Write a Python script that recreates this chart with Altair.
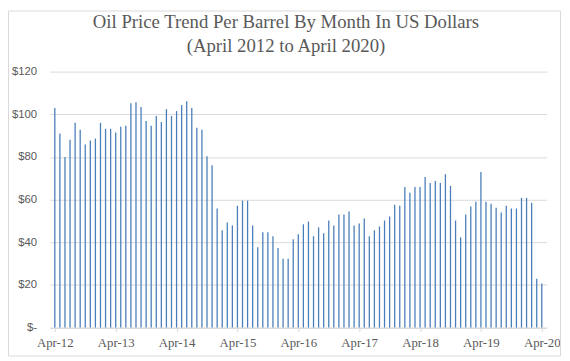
import json
import altair as alt
import pandas as pd

# ---- data ----
months = list(pd.date_range("2012-04-01", periods=97, freq="MS").strftime("%b-%y"))
prices = [
    103.0, 91.0, 80.0, 88.0, 96.0, 92.7, 85.8, 87.7, 88.6, 96.0, 93.2, 93.2,
    91.4, 94.1, 94.6, 105.2, 105.7, 103.4, 96.9, 94.6, 99.2, 96.4, 102.4, 99.2,
    101.5, 104.3, 106.1, 102.9, 93.7, 92.7, 80.3, 76.1, 55.8,
    45.6, 49.3, 47.9, 57.1, 59.5, 59.5, 47.9, 37.7, 44.7, 44.7, 42.8, 37.3,
    32.2, 32.2, 41.4, 43.7, 48.4, 49.7, 42.8, 47.0, 44.2, 50.2, 47.9, 53.0,
    53.0, 54.4, 47.9, 48.8, 51.1, 42.8, 45.6, 47.4,
    50.2, 52.1, 57.6, 57.1, 65.9, 63.2, 65.9, 65.9, 70.6, 67.8, 68.7, 67.8,
    71.9, 66.4, 50.2, 42.3, 53.0, 56.7, 59.0, 72.9, 59.0, 58.1, 56.2, 53.9,
    57.1, 55.8, 55.8, 60.8, 60.8, 58.5, 22.9, 20.6,
]
tick_positions = [0, 12, 24, 36, 48, 60, 72, 84, 96]
tick_labels = ["Apr-12", "Apr-13", "Apr-14", "Apr-15", "Apr-16",
               "Apr-17", "Apr-18", "Apr-19", "Apr-20"]
y_ticks = [0, 20, 40, 60, 80, 100, 120]
title_lines = ["Oil Price Trend Per Barrel By Month In US Dollars",
               "(April 2012 to April 2020)"]

df = pd.DataFrame({"i": list(range(len(prices))), "month": months, "price": prices})

GREY_TXT = "#595959"
GRID = "#d9d9d9"

label_expr = json.dumps(tick_labels) + "[round(datum.value/12)]"

bars = alt.Chart(df).mark_bar(width=1.3, color="#4a7ebb").encode(
    x=alt.X("i:Q",
            scale=alt.Scale(domain=[0, 96], nice=False, zero=False),
            axis=alt.Axis(values=tick_positions, labelExpr=label_expr, title=None,
                          grid=False, domainColor=GRID, tickColor=GRID, tickSize=4,
                          labelFont="Liberation Serif", labelFontSize=13,
                          labelColor=GREY_TXT, labelPadding=5, labelFlush=False)),
    y=alt.Y("price:Q",
            scale=alt.Scale(domain=[0, 120], nice=False),
            axis=alt.Axis(values=y_ticks, title=None, grid=True, gridColor=GRID,
                          domain=False, ticks=False, labelAlign="right",
                          labelPadding=13.5, labelFont="Liberation Sans",
                          labelFontSize=11.5, labelColor=GREY_TXT,
                          labelExpr="datum.value == 0 ? '$-  ' : '$' + datum.value")),
    tooltip=["month:N", "price:Q"],
)

one = pd.DataFrame({"a": [0]})

border = alt.Chart(one).mark_rect(
    fill=None, stroke=GRID, strokeWidth=1
).encode(
    x=alt.value(-42), x2=alt.value(518), y=alt.value(-61.5), y2=alt.value(288.5)
)

title_marks = [
    alt.Chart(one).mark_text(
        font="Liberation Serif", fontSize=19, color=GREY_TXT,
        align="center", baseline="middle"
    ).encode(text=alt.value(line), x=alt.value(239.5), y=alt.value(yy))
    for line, yy in zip(title_lines, [-50, -26])
]

chart = alt.layer(bars, border, *title_marks).properties(
    width=504, height=259.6,
    padding={"left": 42.5, "top": 62, "right": 15.5, "bottom": 31.4},
    autosize=alt.AutoSizeParams(type="none"),
).configure_view(stroke=None)

chart.save("out.html", embed_options={"renderer": "svg", "actions": False})
